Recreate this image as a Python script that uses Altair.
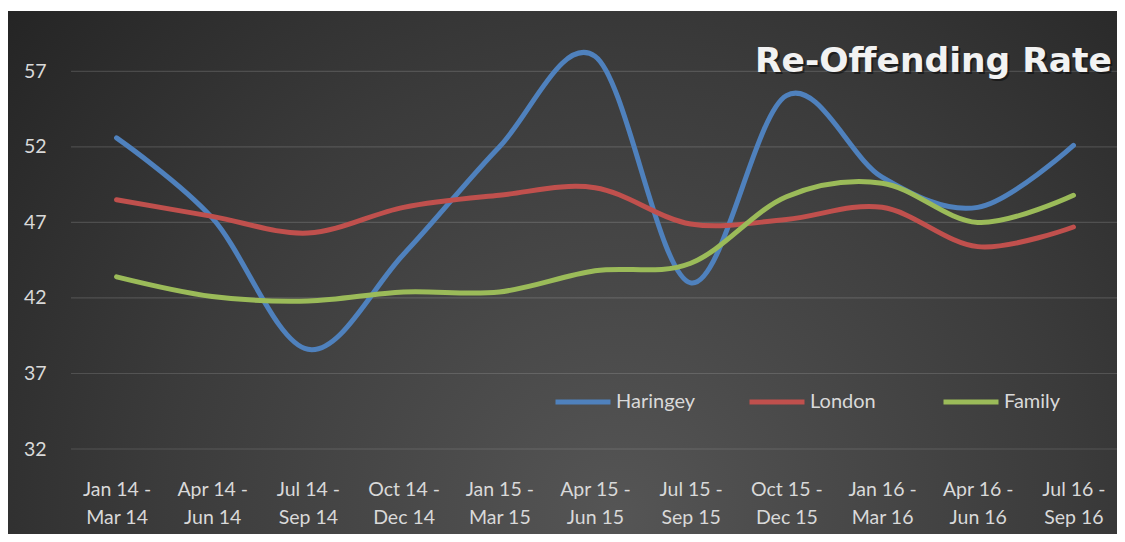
import altair as alt
import pandas as pd

periods = ["Jan 14 - Mar 14", "Apr 14 - Jun 14", "Jul 14 - Sep 14", "Oct 14 - Dec 14",
           "Jan 15 - Mar 15", "Apr 15 - Jun 15", "Jul 15 - Sep 15", "Oct 15 - Dec 15",
           "Jan 16 - Mar 16", "Apr 16 - Jun 16", "Jul 16 - Sep 16"]
haringey = [52.6, 47.3, 38.6, 44.9, 52.0, 58.0, 43.0, 55.4, 50.0, 48.0, 52.1]
london = [48.5, 47.4, 46.3, 48.0, 48.8, 49.3, 46.9, 47.2, 48.0, 45.4, 46.7]
family = [43.4, 42.1, 41.8, 42.4, 42.4, 43.8, 44.3, 48.7, 49.6, 47.0, 48.8]
series_names = ["Haringey", "London", "Family"]
series_colors = ["#4f81bd", "#c0504d", "#9bbb59"]
grid_values = [32, 37, 42, 47, 52, 57]
title_text = "Re-Offending Rate"

rows = []
for name, vals in zip(series_names, [haringey, london, family]):
    for p, v in zip(periods, vals):
        rows.append({"period": p, "series": name, "rate": v})
df = pd.DataFrame(rows)

W, H = 1044, 438
PAD_L, PAD_T, PAD_R, PAD_B = 65, 3, 0, 85
FONT = "Lato"
LABEL_COLOR = "#d9d9d9"

x_scale = alt.Scale(type="point", domain=periods, padding=0.455)
y_scale = alt.Scale(domain=[32, 61], nice=False, zero=False)

y_axis = alt.Axis(values=grid_values, grid=False, ticks=False, domain=False,
                  labelFont=FONT, labelFontSize=19.5, labelColor=LABEL_COLOR,
                  labelPadding=27, title=None, zindex=1)
x_axis = alt.Axis(grid=False, ticks=False, domain=False, labelAngle=0,
                  labelExpr="[split(datum.value, ' - ')[0] + ' -', split(datum.value, ' - ')[1]]",
                  labelFont=FONT, labelFontSize=19.5, labelColor=LABEL_COLOR,
                  labelLineHeight=28, labelPadding=31, labelBaseline="top",
                  labelLimit=0, title=None, zindex=1)

bg = alt.Chart(pd.DataFrame({"k": [0]})).mark_rect(
    fill=alt.Gradient(
        gradient="radial", x1=0.55, y1=0.72, x2=0.55, y2=0.72, r1=0, r2=0.75,
        stops=[alt.GradientStop(color="#555555", offset=0),
               alt.GradientStop(color="#3b3b3b", offset=0.55),
               alt.GradientStop(color="#222222", offset=1)]),
).encode(x=alt.value(-PAD_L), x2=alt.value(W + PAD_R), y=alt.value(0), y2=alt.value(H + PAD_B))

grid = alt.Chart(pd.DataFrame({"g": grid_values})).mark_rule(
    color="#ffffff", opacity=0.14, strokeWidth=1.2
).encode(y=alt.Y("g:Q", scale=y_scale, axis=y_axis), x=alt.value(-2), x2=alt.value(W))

lines = alt.Chart(df).mark_line(interpolate="cardinal", strokeWidth=5, strokeCap="round").encode(
    x=alt.X("period:N", scale=x_scale, sort=periods, axis=x_axis),
    y=alt.Y("rate:Q", scale=y_scale, axis=y_axis),
    color=alt.Color("series:N", scale=alt.Scale(domain=series_names, range=series_colors),
                    sort=series_names,
                    legend=alt.Legend(orient="none", legendX=480, legendY=361, direction="horizontal",
                                      title=None, symbolType="stroke", symbolSize=3025,
                                      symbolStrokeWidth=5, labelFont=FONT, labelFontSize=20,
                                      labelColor=LABEL_COLOR, labelOffset=3, gridAlign="all",
                                      columnPadding=44)),
)

title_df = pd.DataFrame({"t": [title_text]})
title_shadow = alt.Chart(title_df).mark_text(
    align="right", baseline="alphabetic", font="DejaVu Sans", fontWeight="bold", fontSize=34.5,
    color="#000000", opacity=0.45
).encode(text="t:N", x=alt.value(W - 3), y=alt.value(63))
title_main = alt.Chart(title_df).mark_text(
    align="right", baseline="alphabetic", font="DejaVu Sans", fontWeight="bold", fontSize=34.5,
    color="#f2f2f2"
).encode(text="t:N", x=alt.value(W - 5), y=alt.value(61))

chart = alt.layer(bg, grid, lines, title_shadow, title_main).properties(
    width=W, height=H,
    autosize=alt.AutoSizeParams(type="none"),
    padding={"left": PAD_L, "top": PAD_T, "right": PAD_R, "bottom": PAD_B},
    background="white",
).configure_view(stroke=None)

chart.save("out.html", embed_options={"renderer": "svg", "actions": False})
